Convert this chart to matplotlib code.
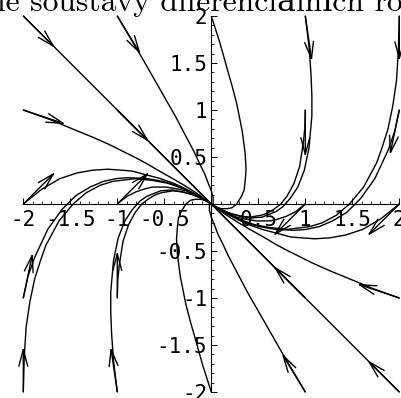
import numpy as np
import matplotlib
matplotlib.use("Agg")
import matplotlib.pyplot as plt
from matplotlib.patches import FancyArrowPatch

plt.rcParams['font.family'] = ['DejaVu Sans Mono']

title = "Trajektorie soustavy diferenciálních rovnic"

# trajectories, one per starting point (x0, y0)
# upper half
tr_m2_p2 = ([-2, -1, 0], [2, 1, 0])
tr_m1_p1 = ([-1, -0.5, 0], [1, 0.5, 0])
tr_m1_p2 = ([-1, -0.74, -0.54, -0.38, -0.27, -0.18, -0.12, -0.07, -0.04, 0.00, 0.02, 0.02, 0.02, 0.02, 0.01, 0.005],
            [2, 1.56, 1.21, 0.93, 0.72, 0.55, 0.42, 0.32, 0.24, 0.14, 0.07, 0.04, 0.01, 0.00, 0.00, 0.00])
tr_0_p2 = ([0, 0.09, 0.16, 0.22, 0.27, 0.33, 0.36, 0.37, 0.36, 0.35, 0.32, 0.27, 0.22, 0.17, 0.11, 0.07, 0.03, 0.01],
           [2, 1.72, 1.47, 1.26, 1.07, 0.77, 0.54, 0.37, 0.24, 0.15, 0.08, 0.00, -0.04, -0.05, -0.05, -0.04, -0.02, -0.01])
tr_p1_p2 = ([1, 1.04, 1.06, 1.07, 1.07, 1.04, 0.99, 0.92, 0.84, 0.76, 0.69, 0.54, 0.42, 0.32, 0.20, 0.13, 0.06, 0.03],
            [2, 1.67, 1.39, 1.15, 0.94, 0.60, 0.36, 0.18, 0.06, -0.03, -0.08, -0.14, -0.15, -0.13, -0.10, -0.07, -0.04, -0.02])
tr_p2_p2 = ([2, 1.99, 1.97, 1.93, 1.88, 1.82, 1.76, 1.62, 1.47, 1.33, 1.18, 1.05, 0.81, 0.62, 0.46, 0.29, 0.18, 0.08, 0.04],
            [2, 1.63, 1.31, 1.04, 0.80, 0.61, 0.44, 0.18, 0.00, -0.12, -0.20, -0.24, -0.27, -0.25, -0.22, -0.16, -0.11, -0.05, -0.03])
tr_m2_p1 = ([-2, -1.72, -1.48, -1.26, -1.08, -0.92, -0.78, -0.67, -0.57, -0.41, -0.29, -0.21, -0.12, -0.07, -0.03, -0.01],
            [1, 0.90, 0.80, 0.71, 0.63, 0.55, 0.48, 0.42, 0.36, 0.27, 0.20, 0.15, 0.09, 0.05, 0.02, 0.01])
tr_p1_p1 = ([1, 0.995, 0.98, 0.94, 0.88, 0.81, 0.74, 0.66, 0.59, 0.53, 0.41, 0.31, 0.23, 0.15, 0.09, 0.04, 0.02],
            [1, 0.81, 0.66, 0.40, 0.22, 0.09, 0.00, -0.06, -0.10, -0.12, -0.14, -0.13, -0.11, -0.08, -0.05, -0.03, -0.01])
tr_p2_p1 = ([2, 1.95, 1.88, 1.74, 1.59, 1.44, 1.29, 1.15, 1.01, 0.89, 0.68, 0.51, 0.38, 0.24, 0.15, 0.06, 0.03],
            [1, 0.77, 0.57, 0.27, 0.06, -0.09, -0.18, -0.24, -0.27, -0.28, -0.27, -0.24, -0.20, -0.14, -0.09, -0.04, -0.02])
tr_m2_0 = ([-2, -1.80, -1.61, -1.43, -1.26, -1.10, -0.96, -0.84, -0.73, -0.54, -0.40, -0.29, -0.18, -0.11, -0.05, -0.02],
           [0, 0.16, 0.27, 0.33, 0.36, 0.37, 0.36, 0.35, 0.32, 0.27, 0.22, 0.17, 0.11, 0.07, 0.03, 0.02])
tr_m1_0 = ([-1, -0.90, -0.80, -0.71, -0.63, -0.55, -0.48, -0.42, -0.36, -0.27, -0.20, -0.15, -0.09, -0.06, -0.02, -0.01],
           [0, 0.08, 0.13, 0.16, 0.18, 0.18, 0.18, 0.17, 0.16, 0.14, 0.11, 0.09, 0.06, 0.04, 0.02, 0.01])

# lower half
tr_p2_m2 = ([2, 1, 0], [-2, -1, 0])
tr_p1_m1 = ([1, 0.5, 0], [-1, -0.5, 0])
tr_p1_m2 = ([1, 0.74, 0.54, 0.38, 0.27, 0.18, 0.12, 0.07, 0.04, 0.00, -0.02, -0.02, -0.02, -0.02, -0.01, -0.005],
            [-2, -1.56, -1.21, -0.93, -0.72, -0.55, -0.42, -0.32, -0.24, -0.14, -0.07, -0.04, -0.01, 0.00, 0.00, 0.00])
tr_0_m2 = ([0, -0.09, -0.16, -0.22, -0.27, -0.33, -0.36, -0.37, -0.36, -0.35, -0.32, -0.27, -0.22, -0.17, -0.11, -0.07, -0.03, -0.01],
           [-2, -1.72, -1.47, -1.26, -1.07, -0.77, -0.54, -0.37, -0.24, -0.15, -0.08, 0.00, 0.04, 0.05, 0.05, 0.04, 0.02, 0.01])
tr_m1_m2 = ([-1, -1.04, -1.06, -1.07, -1.07, -1.04, -0.99, -0.92, -0.84, -0.76, -0.69, -0.54, -0.42, -0.32, -0.20, -0.13, -0.06, -0.03],
            [-2, -1.67, -1.39, -1.15, -0.94, -0.60, -0.36, -0.18, -0.06, 0.03, 0.08, 0.14, 0.15, 0.13, 0.10, 0.07, 0.04, 0.02])
tr_m2_m2 = ([-2, -1.99, -1.97, -1.93, -1.88, -1.82, -1.76, -1.62, -1.47, -1.33, -1.18, -1.05, -0.81, -0.62, -0.46, -0.29, -0.18, -0.08, -0.04],
            [-2, -1.63, -1.31, -1.04, -0.80, -0.61, -0.44, -0.18, 0.00, 0.12, 0.20, 0.24, 0.27, 0.25, 0.22, 0.16, 0.11, 0.05, 0.03])
tr_p2_m1 = ([2, 1.72, 1.48, 1.26, 1.08, 0.92, 0.78, 0.67, 0.57, 0.41, 0.29, 0.21, 0.12, 0.07, 0.03, 0.01],
            [-1, -0.90, -0.80, -0.71, -0.63, -0.55, -0.48, -0.42, -0.36, -0.27, -0.20, -0.15, -0.09, -0.05, -0.02, -0.01])
tr_m1_m1 = ([-1, -0.995, -0.98, -0.94, -0.88, -0.81, -0.74, -0.66, -0.59, -0.53, -0.41, -0.31, -0.23, -0.15, -0.09, -0.04, -0.02],
            [-1, -0.81, -0.66, -0.40, -0.22, -0.09, 0.00, 0.06, 0.10, 0.12, 0.14, 0.13, 0.11, 0.08, 0.05, 0.03, 0.01])
tr_m2_m1 = ([-2, -1.95, -1.88, -1.74, -1.59, -1.44, -1.29, -1.15, -1.01, -0.89, -0.68, -0.51, -0.38, -0.24, -0.15, -0.06, -0.03],
            [-1, -0.77, -0.57, -0.27, -0.06, 0.09, 0.18, 0.24, 0.27, 0.28, 0.27, 0.24, 0.20, 0.14, 0.09, 0.04, 0.02])
tr_p2_0 = ([2, 1.80, 1.61, 1.43, 1.26, 1.10, 0.96, 0.84, 0.73, 0.54, 0.40, 0.29, 0.18, 0.11, 0.05, 0.02],
           [0, -0.16, -0.27, -0.33, -0.36, -0.37, -0.36, -0.35, -0.32, -0.27, -0.22, -0.17, -0.11, -0.07, -0.03, -0.02])
tr_p1_0 = ([1, 0.90, 0.80, 0.71, 0.63, 0.55, 0.48, 0.42, 0.36, 0.27, 0.20, 0.15, 0.09, 0.06, 0.02, 0.01],
           [0, -0.08, -0.13, -0.16, -0.18, -0.18, -0.18, -0.17, -0.16, -0.14, -0.11, -0.09, -0.06, -0.04, -0.02, -0.01])

trajectories = [tr_m2_p2, tr_m1_p1, tr_m1_p2, tr_0_p2, tr_p1_p2, tr_p2_p2, tr_m2_p1, tr_p1_p1,
                tr_p2_p1, tr_m2_0, tr_m1_0,
                tr_p2_m2, tr_p1_m1, tr_p1_m2, tr_0_m2, tr_m1_m2, tr_m2_m2, tr_p2_m1, tr_m1_m1,
                tr_m2_m1, tr_p2_0, tr_p1_0]

# direction arrows at the starting points: tail -> head
arrow_tail = [(-2, 2), (-1, 2), (1, 2), (2, 2), (-2, 1), (-1, 1), (1, 1), (2, 1), (-2, 0), (-1, 0),
              (2, -2), (1, -2), (-1, -2), (-2, -2), (2, -1), (1, -1), (-1, -1), (-2, -1), (2, 0), (1, 0)]
arrow_head = [(-1.66, 1.66), (-0.75, 1.59), (1.07, 1.52), (2.0, 1.52), (-1.55, 0.85), (-0.66, 0.66),
              (1.0, 0.5), (1.9, 0.52), (-1.66, 0.34), (-0.66, 0.34),
              (1.66, -1.66), (0.75, -1.59), (-1.07, -1.52), (-2.0, -1.52), (1.55, -0.85), (0.66, -0.66),
              (-1.0, -0.5), (-1.9, -0.52), (1.66, -0.34), (0.66, -0.34)]

major_ticks = [-2, -1.5, -1, -0.5, 0.5, 1, 1.5, 2]
major_labels = ['-2', '-1.5', '-1', '-0.5', '0.5', '1', '1.5', '2']

W, H = 402, 398
fig = plt.figure(figsize=(W / 100, H / 100), dpi=100)
ax = fig.add_axes([23.3 / W, 6 / H, 376 / W, 376 / H])

for xs, ys in trajectories:
    ax.plot(xs, ys, color='black', lw=1.0, clip_on=False, solid_capstyle='butt')

for (x0, y0), (x1, y1) in zip(arrow_tail, arrow_head):
    ax.add_patch(FancyArrowPatch((x0, y0), (x1, y1), arrowstyle='->,head_length=12,head_width=3.2',
                                 mutation_scale=1, shrinkA=0, shrinkB=0, color='black', lw=1.0,
                                 clip_on=False))

ax.set_xlim(-2, 2)
ax.set_ylim(-2, 2)
ax.set_facecolor('none')
for side in ['top', 'right']:
    ax.spines[side].set_visible(False)
ax.spines['left'].set_position(('data', 0))
ax.spines['bottom'].set_position(('data', 0))
for side in ['left', 'bottom']:
    ax.spines[side].set_linewidth(0.8)

ax.set_xticks(major_ticks, labels=major_labels)
ax.set_yticks(major_ticks, labels=major_labels)
ax.set_xticks(np.arange(-2, 2.01, 0.1), minor=True)
ax.set_yticks(np.arange(-2, 2.01, 0.1), minor=True)
ax.tick_params(which='major', direction='in', length=4, width=0.7, labelsize=15)
ax.tick_params(which='minor', direction='in', length=2, width=0.6)
ax.tick_params(axis='x', pad=4)
ax.tick_params(axis='y', pad=3)

# the title is wider than the figure; size it so the middle part spans the width
title_font = ['cmr10', 'DejaVu Serif']
renderer = fig.canvas.get_renderer()


def text_width(s, size):
    t = fig.text(0, 0, s, fontsize=size, family=title_font)
    w = t.get_window_extent(renderer).width
    t.remove()
    return w


size = 22
size *= 406 / text_width("ie soustavy diferenciálních ro", size)
lead = text_width("Trajektor", size)
fig.text((-3 - lead) / W, 1 - 11 / H, title, ha='left', va='baseline', fontsize=size,
         family=title_font)

fig.savefig('out.png', dpi=100)
